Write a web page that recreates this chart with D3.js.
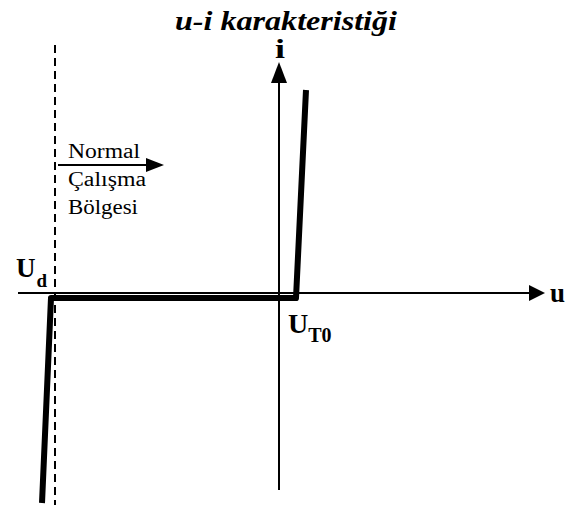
<!DOCTYPE html>
<html><head><meta charset="utf-8">
<script src="https://cdn.jsdelivr.net/npm/d3@7"></script>
<style>
body{margin:0;background:#fff}
svg{display:block}
svg text{font-family:"Liberation Serif","Times New Roman",Times,Tinos,serif}
</style>
</head><body>
<script>
// Data (arbitrary units: u, i)
const curveU = [-237, -228, 17, 27];
const curveI = [-210, -5, -5, 203];
const Ud = -224;
const UT0 = 17;
const titleText = "u-i karakteristiği";
const regionLines = ["Normal", "Çalışma", "Bölgesi"];

const W = 576, H = 518;
const x = d3.scaleLinear().domain([-261, 266]).range([18, 545]);
const y = d3.scaleLinear().domain([-197, 233]).range([490, 60]);

const svg = d3.select("body").append("svg").attr("width", W).attr("height", H);

function txt(px, py, size, str) {
  const t = svg.append("text").attr("x", px).attr("y", py).attr("font-size", size);
  if (str !== null) t.text(str);
  return t;
}

// Title
txt(175, 30, 27, titleText).attr("font-weight", "bold").attr("font-style", "italic")
  .attr("textLength", 222).attr("lengthAdjust", "spacingAndGlyphs");

// Axes
svg.append("line").attr("x1", x(-261)).attr("x2", x(252)).attr("y1", y(0)).attr("y2", y(0))
  .attr("stroke", "#000").attr("stroke-width", 2);
svg.append("path").attr("d", `M${x(266)},${y(0)} L${x(250)},${y(0)-8} L${x(250)},${y(0)+8} Z`).attr("fill", "#000");
svg.append("line").attr("x1", x(0)).attr("x2", x(0)).attr("y1", y(-197)).attr("y2", y(215))
  .attr("stroke", "#000").attr("stroke-width", 2);
svg.append("path").attr("d", `M${x(0)},${y(231)} L${x(0)-8},${y(210)} L${x(0)+8},${y(210)} Z`).attr("fill", "#000");

// Axis labels
txt(275, 58, 27, "i").attr("font-weight", "bold").attr("textLength", 10).attr("lengthAdjust", "spacingAndGlyphs");
txt(550, 302, 27, "u").attr("font-weight", "bold").attr("textLength", 15).attr("lengthAdjust", "spacingAndGlyphs");

// Dashed line at Ud
svg.append("line").attr("x1", x(Ud)).attr("x2", x(Ud)).attr("y1", y(248)).attr("y2", y(-212))
  .attr("stroke", "#000").attr("stroke-width", 2).attr("stroke-dasharray", "8,5");

// Characteristic curve
const pts = curveU.map((u, k) => [u, curveI[k]]);
svg.append("path").datum(pts)
  .attr("d", d3.line().x(d => x(d[0])).y(d => y(d[1])))
  .attr("fill", "none").attr("stroke", "#000").attr("stroke-width", 6)
  .attr("stroke-linejoin", "round");

// Labels Ud, UT0
const ud = txt(16, 277, 27, null).attr("font-weight", "bold");
ud.append("tspan").text("U");
ud.append("tspan").attr("font-size", 19).attr("dy", 10).attr("dx", 1).text("d");

const ut = txt(288, 333, 28, null).attr("font-weight", "bold");
ut.append("tspan").text("U");
ut.append("tspan").attr("font-size", 20).attr("dy", 9).text("T0");

// Normal region arrow
svg.append("line").attr("x1", 58).attr("x2", 148).attr("y1", 165).attr("y2", 165)
  .attr("stroke", "#000").attr("stroke-width", 2);
svg.append("path").attr("d", "M164,165 L146,158 L146,172 Z").attr("fill", "#000");

const widths = [72, 78, 70];
regionLines.forEach((t, k) => {
  txt(68, [158, 186, 214][k], 20, t).attr("textLength", widths[k]).attr("lengthAdjust", "spacingAndGlyphs");
});
</script>
</body></html>
